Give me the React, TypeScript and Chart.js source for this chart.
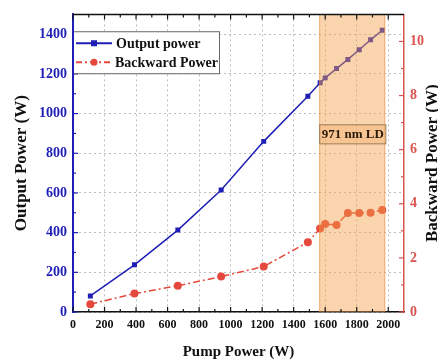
import React, { useEffect, useRef } from "react";
import { Chart, registerables } from "chart.js";

Chart.register(...registerables);

const pumpPower = [110, 390, 665, 940, 1210, 1490, 1568, 1600, 1672, 1744, 1816, 1888, 1962];
const outputPower = [81, 238, 413, 615, 860, 1087, 1155, 1180, 1227, 1273, 1322, 1372, 1420];
const backwardPower = [0.29, 0.68, 0.97, 1.31, 1.68, 2.58, 3.09, 3.25, 3.22, 3.66, 3.66, 3.67, 3.77];

const xTicks = [0, 200, 400, 600, 800, 1000, 1200, 1400, 1600, 1800, 2000];
const xMinorTicks = [100, 300, 500, 700, 900, 1100, 1300, 1500, 1700, 1900];
const leftTicks = [0, 200, 400, 600, 800, 1000, 1200, 1400];
const leftMinorTicks = [100, 300, 500, 700, 900, 1100, 1300];
const rightTicks = [0, 2, 4, 6, 8, 10];
const rightMinorTicks = [1, 3, 5, 7, 9];

const ldRange = [1562, 1981];
const ldLabel = "971 nm LD";
const ldLabelY = 898;

const seriesNames = ["Output power", "Backward Power"];
const xTitle = "Pump Power (W)";
const leftTitle = "Output Power (W)";
const rightTitle = "Backward Power (W)";

const FONT = '"Liberation Serif", "Times New Roman", serif';
const BLUE = "#1f1fb5";
const RED = "#e5483c";
const AXIS_RED = "#d9534f";

const overlayPlugin = {
  id: "overlayPlugin",
  afterDatasetsDraw(chart: any) {
    const { ctx, chartArea } = chart;
    const { left, right, top, bottom } = chartArea;
    const x = chart.scales.x;
    const y = chart.scales.y;
    const y1 = chart.scales.y1;
    ctx.save();

    // shaded LD region
    const rx0 = x.getPixelForValue(ldRange[0]);
    const rx1 = x.getPixelForValue(ldRange[1]);
    ctx.fillStyle = "rgba(245,160,70,0.45)";
    ctx.fillRect(rx0, top, rx1 - rx0, bottom - top);
    ctx.strokeStyle = "rgba(230,140,60,0.55)";
    ctx.lineWidth = 1;
    ctx.beginPath();
    ctx.moveTo(rx0 + 0.5, top);
    ctx.lineTo(rx0 + 0.5, bottom);
    ctx.moveTo(rx1 - 0.5, top);
    ctx.lineTo(rx1 - 0.5, bottom);
    ctx.stroke();

    // annotation box
    ctx.font = `bold 13px ${FONT}`;
    const tw = ctx.measureText(ldLabel).width;
    const by = y.getPixelForValue(ldLabelY);
    const bw = tw + 4;
    const bh = 19;
    ctx.fillStyle = "rgba(245,170,100,0.35)";
    ctx.fillRect(rx0, by - bh / 2, bw, bh);
    ctx.strokeStyle = "#9a7a55";
    ctx.strokeRect(rx0 + 0.5, by - bh / 2 + 0.5, bw, bh);
    ctx.fillStyle = "#2a1a0a";
    ctx.textAlign = "center";
    ctx.textBaseline = "middle";
    ctx.fillText(ldLabel, rx0 + bw / 2 + 0.5, by + 1);

    // tick marks (inside)
    const tick = (x0: number, y0: number, x1: number, y1p: number, color: string) => {
      ctx.strokeStyle = color;
      ctx.lineWidth = 1.2;
      ctx.beginPath();
      ctx.moveTo(x0, y0);
      ctx.lineTo(x1, y1p);
      ctx.stroke();
    };
    xTicks.forEach((v) => {
      const px = x.getPixelForValue(v);
      tick(px, bottom, px, bottom - 5, "#111");
      tick(px, top, px, top + 5, "#111");
    });
    xMinorTicks.forEach((v) => {
      const px = x.getPixelForValue(v);
      tick(px, bottom, px, bottom - 3, "#111");
      tick(px, top, px, top + 3, "#111");
    });
    leftTicks.forEach((v) => {
      const py = y.getPixelForValue(v);
      tick(left, py, left + 5, py, BLUE);
    });
    leftMinorTicks.forEach((v) => {
      const py = y.getPixelForValue(v);
      tick(left, py, left + 3, py, BLUE);
    });
    rightTicks.forEach((v) => {
      const py = y1.getPixelForValue(v);
      tick(right, py, right - 5, py, AXIS_RED);
    });
    rightMinorTicks.forEach((v) => {
      const py = y1.getPixelForValue(v);
      tick(right, py, right - 3, py, AXIS_RED);
    });

    // top border
    ctx.strokeStyle = "#111";
    ctx.lineWidth = 1.5;
    ctx.beginPath();
    ctx.moveTo(left, top);
    ctx.lineTo(right, top);
    ctx.stroke();

    // legend
    const lx = left;
    const ly = y.getPixelForValue(1400) - 3;
    const lw = 146;
    const lh = 42;
    ctx.fillStyle = "#ffffff";
    ctx.fillRect(lx, ly, lw, lh);
    ctx.strokeStyle = "#666";
    ctx.lineWidth = 1;
    ctx.strokeRect(lx + 0.5, ly + 0.5, lw, lh);
    ctx.strokeStyle = BLUE;
    ctx.lineWidth = 2;
    ctx.beginPath();
    ctx.moveTo(left, ly);
    ctx.lineTo(left, ly + lh + 1);
    ctx.stroke();

    const row1 = ly + 12;
    const row2 = ly + 31;
    ctx.lineWidth = 1.8;
    ctx.strokeStyle = BLUE;
    ctx.beginPath();
    ctx.moveTo(lx + 3, row1);
    ctx.lineTo(lx + 39, row1);
    ctx.stroke();
    ctx.fillStyle = BLUE;
    ctx.fillRect(lx + 21 - 3, row1 - 3, 6, 6);

    ctx.strokeStyle = RED;
    ctx.setLineDash([6, 3, 2, 3]);
    ctx.beginPath();
    ctx.moveTo(lx + 3, row2);
    ctx.lineTo(lx + 39, row2);
    ctx.stroke();
    ctx.setLineDash([]);
    ctx.fillStyle = RED;
    ctx.beginPath();
    ctx.arc(lx + 21, row2, 3.5, 0, Math.PI * 2);
    ctx.fill();

    ctx.fillStyle = "#111";
    ctx.font = `bold 14px ${FONT}`;
    ctx.textAlign = "left";
    ctx.textBaseline = "middle";
    ctx.fillText(seriesNames[0], lx + 43, row1 + 1);
    ctx.fillText(seriesNames[1], lx + 42, row2 + 1);

    // axis titles
    ctx.fillStyle = "#111";
    ctx.textAlign = "center";
    ctx.textBaseline = "middle";
    ctx.font = `bold 15px ${FONT}`;
    ctx.fillText(xTitle, (left + right) / 2, 352);
    ctx.font = `bold 17px ${FONT}`;
    ctx.save();
    ctx.translate(22, (top + bottom) / 2);
    ctx.rotate(-Math.PI / 2);
    ctx.fillText(leftTitle, 0, 0);
    ctx.restore();
    ctx.save();
    ctx.translate(433, (top + bottom) / 2);
    ctx.rotate(-Math.PI / 2);
    ctx.fillText(rightTitle, 0, 0);
    ctx.restore();

    ctx.restore();
  },
};

const plain = (v: any) => String(v);

export default function App() {
  const ref = useRef<HTMLCanvasElement | null>(null);

  useEffect(() => {
    if (!ref.current) return;
    const chart = new Chart(ref.current, {
      type: "line",
      data: {
        datasets: [
          {
            label: seriesNames[0],
            data: pumpPower.map((p, i) => ({ x: p, y: outputPower[i] })),
            borderColor: BLUE,
            backgroundColor: BLUE,
            borderWidth: 1.5,
            pointStyle: "rect",
            pointRadius: 3.5,
            pointBorderWidth: 0,
            yAxisID: "y",
          },
          {
            label: seriesNames[1],
            data: pumpPower.map((p, i) => ({ x: p, y: backwardPower[i] })),
            borderColor: RED,
            backgroundColor: RED,
            borderWidth: 1.5,
            borderDash: [7, 3, 2, 3],
            pointStyle: "circle",
            pointRadius: 4,
            pointBorderWidth: 0,
            yAxisID: "y1",
          },
        ],
      },
      options: {
        animation: false,
        responsive: false,
        layout: { padding: { top: 10, left: 0, right: 0, bottom: 0 } },
        plugins: { legend: { display: false }, tooltip: { enabled: false }, title: { display: false } },
        scales: {
          x: {
            type: "linear",
            min: 0,
            max: 2100,
            afterBuildTicks: (s: any) => {
              s.ticks = xTicks.map((v) => ({ value: v }));
            },
            afterFit: (s: any) => {
              s.height = 48;
            },
            ticks: {
              font: { family: FONT, size: 12, weight: "bold" },
              color: "#111",
              padding: 6,
              maxRotation: 0,
              autoSkip: false,
              callback: plain,
            },
            grid: { color: "#bdbdbd", drawTicks: false, lineWidth: 1 },
            border: { color: "#111", width: 1.5, dash: [2, 3] },
          },
          y: {
            type: "linear",
            position: "left",
            min: 0,
            max: 1500,
            afterBuildTicks: (s: any) => {
              s.ticks = leftTicks.map((v) => ({ value: v }));
            },
            afterFit: (s: any) => {
              s.width = 73;
            },
            ticks: {
              font: { family: FONT, size: 14, weight: "bold" },
              color: BLUE,
              padding: 6,
              callback: plain,
            },
            grid: { color: "#bdbdbd", drawTicks: false, lineWidth: 1 },
            border: { color: BLUE, width: 2, dash: [2, 3] },
          },
          y1: {
            type: "linear",
            position: "right",
            min: 0,
            max: 11,
            afterBuildTicks: (s: any) => {
              s.ticks = rightTicks.map((v) => ({ value: v }));
            },
            afterFit: (s: any) => {
              s.width = 34;
            },
            ticks: {
              font: { family: FONT, size: 14, weight: "bold" },
              color: AXIS_RED,
              padding: 6,
              callback: plain,
            },
            grid: { display: false, drawTicks: false },
            border: { color: AXIS_RED, width: 1.5 },
          },
        },
      },
      plugins: [overlayPlugin],
    });
    return () => chart.destroy();
  }, []);

  return (
    <div style={{ position: "fixed", left: 0, top: 0, width: 438, height: 360, background: "#fff" }}>
      <canvas ref={ref} width={438} height={360} style={{ display: "block" }} />
    </div>
  );
}
